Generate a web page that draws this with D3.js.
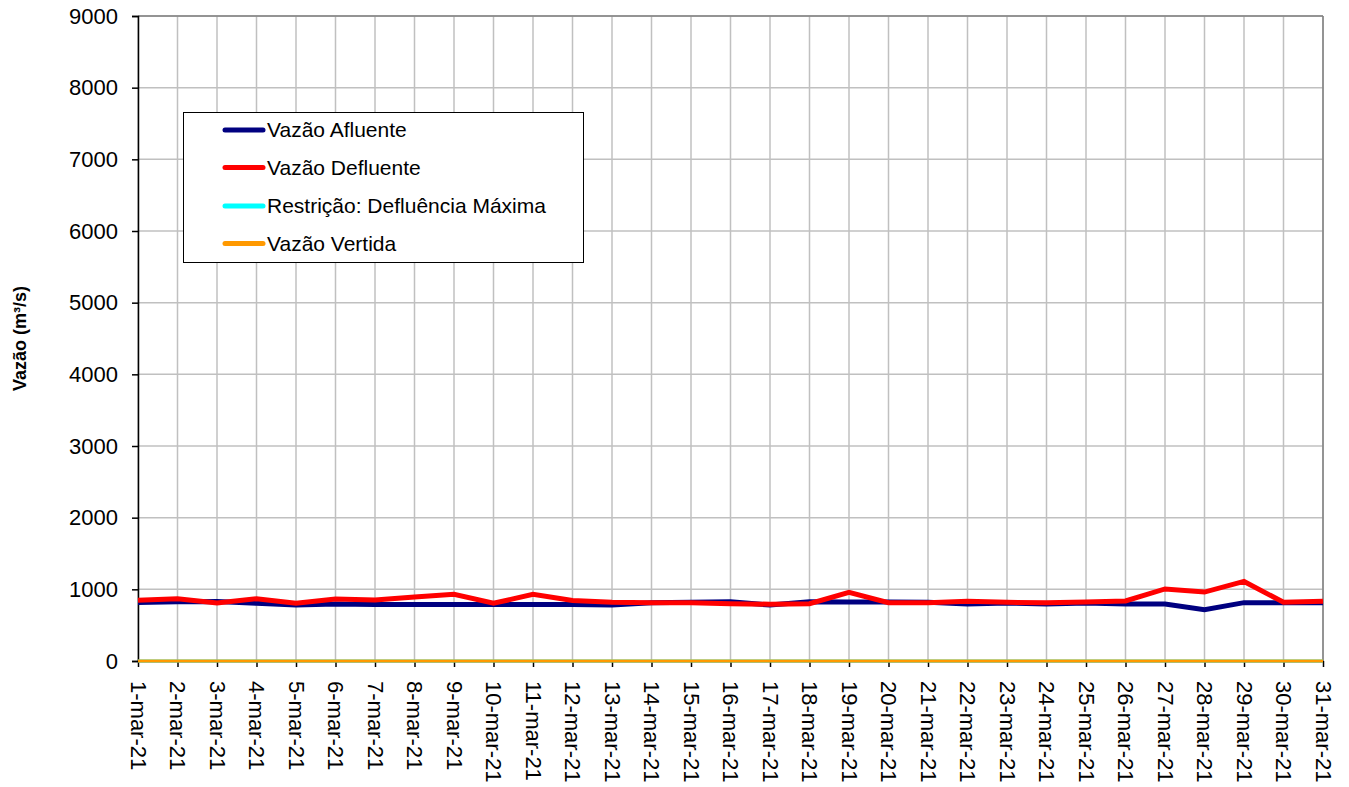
<!DOCTYPE html>
<html><head><meta charset="utf-8">
<script src="https://cdn.jsdelivr.net/npm/d3@7/dist/d3.min.js"></script>
<style>body{margin:0;background:#fff}svg{display:block}text{font-family:"Liberation Sans",Arial,sans-serif}</style>
</head><body>
<script>
const dates = ["1-mar-21","2-mar-21","3-mar-21","4-mar-21","5-mar-21","6-mar-21","7-mar-21","8-mar-21","9-mar-21","10-mar-21","11-mar-21","12-mar-21","13-mar-21","14-mar-21","15-mar-21","16-mar-21","17-mar-21","18-mar-21","19-mar-21","20-mar-21","21-mar-21","22-mar-21","23-mar-21","24-mar-21","25-mar-21","26-mar-21","27-mar-21","28-mar-21","29-mar-21","30-mar-21","31-mar-21"];
const afluente = [815,825,830,805,780,795,790,790,790,790,790,790,780,814,819,825,780,825,824,824,820,795,810,795,810,795,795,714,814,814,814];
const defluente = [847,868,810,868,805,865,852,893,930,805,930,843,819,814,814,800,792,800,957,814,814,835,819,814,824,838,1005,962,1110,819,833];
const restricao = [0,0,0,0,0,0,0,0,0,0,0,0,0,0,0,0,0,0,0,0,0,0,0,0,0,0,0,0,0,0,0];
const vertida = [0,0,0,0,0,0,0,0,0,0,0,0,0,0,0,0,0,0,0,0,0,0,0,0,0,0,0,0,0,0,0];
const yTicks = [0,1000,2000,3000,4000,5000,6000,7000,8000,9000];
const seriesNames = ["Vazão Afluente","Vazão Defluente","Restrição: Defluência Máxima","Vazão Vertida"];
const yTitle = "Vazão (m³/s)";

const W=1349,H=787;
const m={l:138,r:1323,t:16,b:661};
const FF="'Liberation Sans',Arial,sans-serif";
const svg=d3.select("body").append("svg").attr("width",W).attr("height",H);
const x=d3.scalePoint().domain(dates).range([m.l,m.r]);
const y=d3.scaleLinear().domain([0,9000]).range([m.b,m.t]);

// gridlines
const g=svg.append("g");
g.selectAll(".vg").data(dates).join("line").attr("x1",d=>x(d)).attr("x2",d=>x(d)).attr("y1",m.t).attr("y2",m.b).attr("stroke","#c0c0c0").attr("stroke-width",1.5);
g.selectAll(".hg").data(yTicks).join("line").attr("x1",m.l).attr("x2",m.r).attr("y1",d=>y(d)).attr("y2",d=>y(d)).attr("stroke","#c0c0c0").attr("stroke-width",1.5);
// top and right border
svg.append("line").attr("x1",m.l).attr("x2",m.r).attr("y1",m.t).attr("y2",m.t).attr("stroke","#808080").attr("stroke-width",1.5);
svg.append("line").attr("x1",m.r).attr("x2",m.r).attr("y1",m.t).attr("y2",m.b).attr("stroke","#808080").attr("stroke-width",1.5);

// axes
const ya=svg.append("g").attr("transform",`translate(${m.l},0)`).call(d3.axisLeft(y).tickValues(yTicks).tickSize(6).tickPadding(14).tickFormat(d3.format("d")));
ya.select(".domain").attr("stroke","#000").attr("stroke-width",1.5);
ya.selectAll(".tick line").attr("stroke","#000").attr("stroke-width",1.5);
ya.selectAll("text").attr("font-size",22).attr("fill","#000").style("font-family",FF);

const xa=svg.append("g").attr("transform",`translate(0,${m.b})`).call(d3.axisBottom(x).tickSize(6).tickSizeOuter(0).tickPadding(0));
xa.select(".domain").attr("stroke","#000").attr("stroke-width",1.5);
xa.selectAll(".tick line").attr("stroke","#000").attr("stroke-width",1.5);
xa.selectAll("text").attr("font-size",22).attr("fill","#000").style("font-family",FF)
  .attr("transform","translate(0,20) rotate(90)").attr("text-anchor","start").attr("dy","0.35em").attr("x",0).attr("y",0);

// y title
svg.append("text").attr("transform",`translate(26,${(m.t+m.b)/2}) rotate(-90)`).attr("text-anchor","middle").attr("font-size",18).attr("font-weight","bold").text(yTitle);

// lines
const line=d3.line().x((d,i)=>x(dates[i])).y(d=>y(d));
const series=[
 {v:restricao,c:"#00ffff",w:3},
 {v:vertida,c:"#ff9900",w:3},
 {v:afluente,c:"#000080",w:5},
 {v:defluente,c:"#ff0000",w:5}
];
series.forEach(s=>svg.append("path").datum(s.v).attr("d",line).attr("fill","none").attr("stroke",s.c).attr("stroke-width",s.w).attr("stroke-linejoin","miter"));

// legend
const lg=svg.append("g");
lg.append("rect").attr("x",183.5).attr("y",112.5).attr("width",400).attr("height",150).attr("fill","#fff").attr("stroke","#000").attr("stroke-width",1);
const legColors=["#000080","#ff0000","#00ffff","#ff9900"];
const rowY=[130,167.5,206,243.5];
seriesNames.forEach((n,i)=>{
  lg.append("line").attr("x1",225).attr("x2",263).attr("y1",rowY[i]).attr("y2",rowY[i]).attr("stroke",legColors[i]).attr("stroke-width",5).attr("stroke-linecap","round");
  lg.append("text").attr("x",267).attr("y",rowY[i]).attr("dy","0.35em").attr("font-size",21).text(n);
});
</script>
</body></html>
